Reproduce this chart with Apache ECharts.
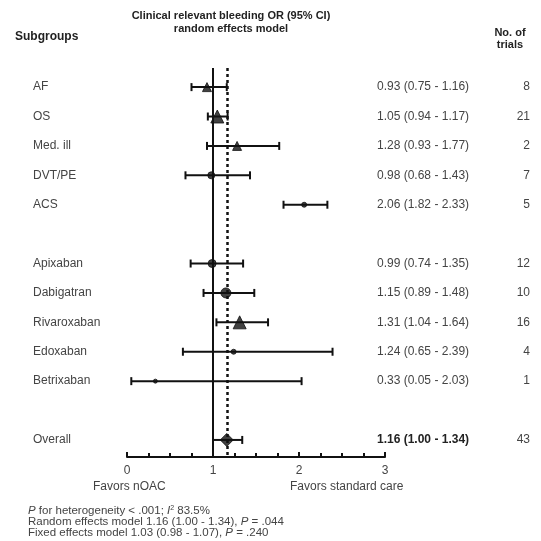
<!DOCTYPE html>
<html>
<head>
<meta charset="utf-8">
<script src="https://cdn.jsdelivr.net/npm/echarts@6/dist/echarts.min.js"></script>
<style>html,body{margin:0;padding:0;background:#fff;}#c{width:541px;height:541px;}</style>
</head>
<body>
<div id="c"></div>
<script>
// ---- data ----
var subgroups = ['AF','OS','Med. ill','DVT/PE','ACS','Apixaban','Dabigatran','Rivaroxaban','Edoxaban','Betrixaban','Overall'];
var rowIndex  = [0,1,2,3,4,6,7,8,9,10,12];
var orValue   = [0.93,1.05,1.28,0.98,2.06,0.99,1.15,1.31,1.24,0.33,1.16];
var ciLow     = [0.75,0.94,0.93,0.68,1.82,0.74,0.89,1.04,0.65,0.05,1.00];
var ciHigh    = [1.16,1.17,1.77,1.43,2.33,1.35,1.48,1.64,2.39,2.03,1.34];
var trials    = [8,21,2,7,5,12,10,16,4,1,43];
var orText    = ['0.93 (0.75 - 1.16)','1.05 (0.94 - 1.17)','1.28 (0.93 - 1.77)','0.98 (0.68 - 1.43)','2.06 (1.82 - 2.33)',
                 '0.99 (0.74 - 1.35)','1.15 (0.89 - 1.48)','1.31 (1.04 - 1.64)','1.24 (0.65 - 2.39)','0.33 (0.05 - 2.03)','1.16 (1.00 - 1.34)'];
var markerShape = ['triangle','triangle','triangle','circle','circle','circle','circle','triangle','circle','circle','diamond'];
var markerSize  = [9,13,9,7,5,8,10,13,5,4,13];
var pooledOR = 1.16;
var xTicks = [0,1,2,3];

var chart = echarts.init(document.getElementById('c'));
var font = '"Liberation Sans", Arial, sans-serif';
var txtColor = '#444';

var rows = subgroups.map(function(s,i){
  return [ciLow[i], ciHigh[i], rowIndex[i], orValue[i], i];
});

chart.setOption({
  animation:false,
  backgroundColor:'#fff',
  grid:{left:127, right:156, top:68, bottom:84},
  xAxis:{type:'value', min:0, max:3, interval:1,
    axisLine:{show:true, onZero:false, lineStyle:{color:'#111', width:2}},
    axisTick:{show:true, inside:true, length:5, lineStyle:{color:'#111', width:2}},
    minorTick:{show:true, splitNumber:4, length:4, lineStyle:{color:'#111', width:2}},
    splitLine:{show:false},
    axisLabel:{color:txtColor, fontFamily:font, fontSize:12, margin:8,
      formatter:function(v){ return xTicks.indexOf(v) >= 0 ? String(v) : ''; }}
  },
  yAxis:{type:'value', inverse:true, min:-0.65, max:12.58, show:false},
  series:[
    {
      type:'custom',
      data: rows,
      renderItem:function(params, api){
        var lo = api.value(0), hi = api.value(1), r = api.value(2), idx = api.value(4);
        var p1 = api.coord([lo, r]), p2 = api.coord([hi, r]);
        var cap = 4;
        var st = {stroke:'#111', lineWidth:2};
        var bold = idx === subgroups.length - 1;
        var y = p1[1];
        return {type:'group', children:[
          {type:'line', shape:{x1:p1[0], y1:y, x2:p2[0], y2:y}, style:st},
          {type:'line', shape:{x1:p1[0], y1:y-cap, x2:p1[0], y2:y+cap}, style:st},
          {type:'line', shape:{x1:p2[0], y1:y-cap, x2:p2[0], y2:y+cap}, style:st},
          {type:'text', x:33, y:y, style:{text:subgroups[idx], fill:txtColor, font:'12px '+font, textVerticalAlign:'middle'}},
          {type:'text', x:377, y:y, style:{text:orText[idx], fill: bold?'#222':txtColor, font:(bold?'bold ':'')+'12px '+font, textVerticalAlign:'middle'}},
          {type:'text', x:530, y:y, style:{text:String(trials[idx]), fill:txtColor, font:'12px '+font, textAlign:'right', textVerticalAlign:'middle'}}
        ]};
      },
      markLine:{
        silent:true, symbol:'none', label:{show:false},
        data:[
          {xAxis:1, lineStyle:{color:'#111', width:2, type:'solid'}},
          {xAxis:pooledOR, lineStyle:{color:'#111', width:2.5, type:[3,3]}}
        ]
      },
      z:2
    },
    {
      type:'scatter',
      data: subgroups.map(function(s,i){
        return {value:[orValue[i], rowIndex[i]], symbol:markerShape[i], symbolSize:markerSize[i]};
      }),
      itemStyle:{color:'#111', borderColor:'#111', borderWidth:1},
      z:3
    }
  ],
  graphic:[
    {type:'text', x:231, y:9, style:{text:'Clinical relevant bleeding OR (95% CI)\nrandom effects model', fill:'#222', font:'bold 11px '+font, textAlign:'center', lineHeight:13}},
    {type:'text', x:15, y:31, style:{text:'Subgroups', fill:'#222', font:'bold 12px '+font}},
    {type:'text', x:510, y:27, style:{text:'No. of\ntrials', fill:'#222', font:'bold 11px '+font, textAlign:'center', lineHeight:12}},
    {type:'text', x:93, y:481, style:{text:'Favors nOAC', fill:txtColor, font:'12px '+font}},
    {type:'text', x:290, y:481, style:{text:'Favors standard care', fill:txtColor, font:'12px '+font}},
    {type:'text', x:28, y:505, style:{rich:{i:{fontStyle:'italic', fontFamily:font, fontSize:11.5, fill:txtColor}, n:{fontFamily:font, fontSize:11.5, fill:txtColor}, s:{fontFamily:font, fontSize:7, fill:txtColor, verticalAlign:'top'}},
      text:'{i|P}{n| for heterogeneity < .001; }{i|I}{s|2}{n| 83.5%}', fill:txtColor, font:'11.5px '+font}},
    {type:'text', x:28, y:516, style:{rich:{i:{fontStyle:'italic', fontFamily:font, fontSize:11.5, fill:txtColor}, n:{fontFamily:font, fontSize:11.5, fill:txtColor}},
      text:'{n|Random effects model 1.16 (1.00 - 1.34), }{i|P}{n| = .044}', font:'11.5px '+font}},
    {type:'text', x:28, y:527, style:{rich:{i:{fontStyle:'italic', fontFamily:font, fontSize:11.5, fill:txtColor}, n:{fontFamily:font, fontSize:11.5, fill:txtColor}},
      text:'{n|Fixed effects model 1.03 (0.98 - 1.07), }{i|P}{n| = .240}', font:'11.5px '+font}}
  ]
});
</script>
</body>
</html>
